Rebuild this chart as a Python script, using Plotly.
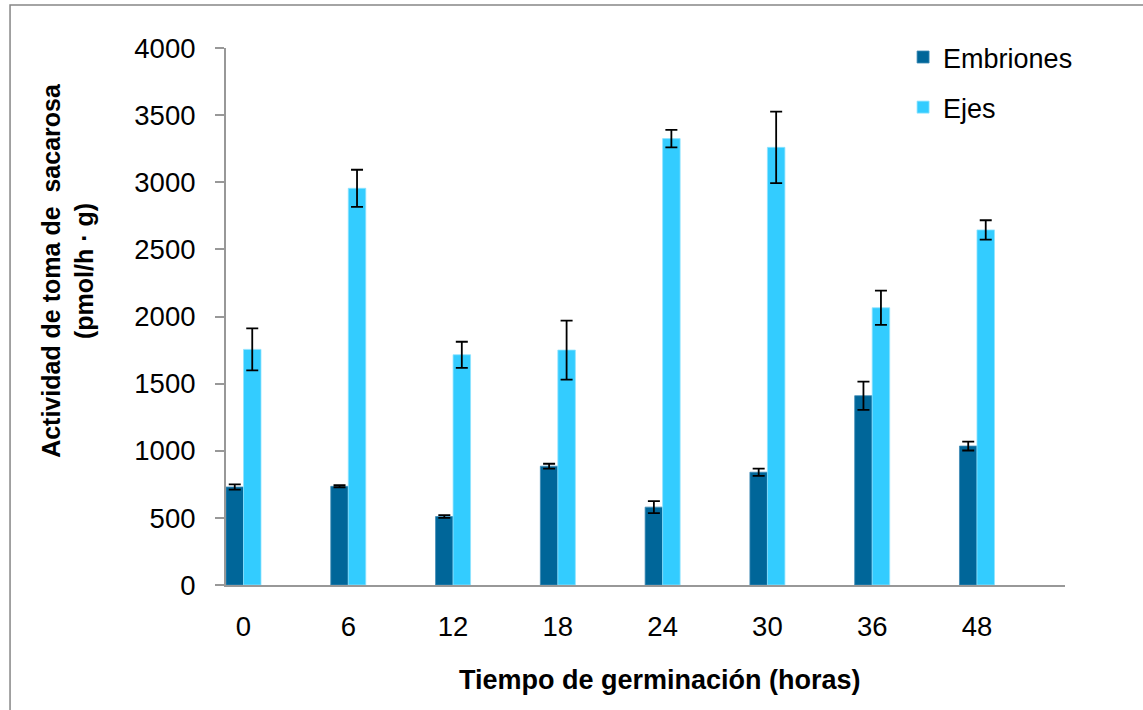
import plotly.graph_objects as go

# Sucrose uptake activity during germination
horas = ["0", "6", "12", "18", "24", "30", "36", "48"]
embriones = [730, 735, 510, 885, 580, 840, 1410, 1035]
embriones_err = [20, 8, 10, 18, 45, 27, 105, 33]
ejes = [1755, 2955, 1715, 1750, 3325, 3260, 2065, 2645]
ejes_err = [157, 138, 97, 220, 65, 266, 128, 72]

FONT = "Liberation Sans, Arial, sans-serif"
C_EMB = "#006699"
C_EJE = "#33CCFF"

fig = go.Figure()
fig.add_trace(go.Bar(
    name="Embriones", x=horas, y=embriones, legendgroup="a",
    marker=dict(color=C_EMB, line=dict(color="#3d8ab5", width=0.8)),
    error_y=dict(type="data", array=embriones_err, visible=True,
                 color="black", thickness=1.8, width=6),
))
fig.add_trace(go.Bar(
    name="Ejes", x=horas, y=ejes, legendgroup="b",
    marker=dict(color=C_EJE, line=dict(color="#8fe3ff", width=0.8)),
    error_y=dict(type="data", array=ejes_err, visible=True,
                 color="black", thickness=1.8, width=6),
))

fig.update_layout(
    width=1143, height=710,
    margin=dict(l=226, r=78, t=48, b=125),
    paper_bgcolor="white", plot_bgcolor="white",
    barmode="group", bargap=0.666, bargroupgap=0,
    font=dict(family=FONT, color="black", size=27),
    showlegend=True,
    legend=dict(x=0.807, y=1.028, xanchor="left", yanchor="top",
                font=dict(size=27), traceorder="grouped",
                tracegroupgap=12, bgcolor="rgba(0,0,0,0)"),
    xaxis=dict(
        type="category", categoryorder="array", categoryarray=horas,
        range=[-0.167, 7.84], showline=True, linecolor="#989898",
        linewidth=2, ticks="", showgrid=False, zeroline=False,
        tickfont=dict(size=27.5), ticklabelstandoff=16,
    ),
    yaxis=dict(
        range=[0, 4000], tickvals=list(range(0, 4001, 500)),
        showline=True, linecolor="#989898", linewidth=2,
        ticks="outside", ticklen=9, tickwidth=2, tickcolor="#989898",
        showgrid=False, zeroline=False,
        tickfont=dict(size=27.5), ticklabelstandoff=14,
    ),
    annotations=[
        dict(text="<b>Actividad de toma de  sacarosa<br>(pmol/h · g)</b>",
             xref="paper", yref="paper", x=-0.1883, y=0.585,
             xanchor="center", yanchor="middle", textangle=-90,
             showarrow=False, font=dict(size=25, family=FONT)),
        dict(text="<b>Tiempo de germinación (horas)</b>",
             xref="paper", yref="paper", x=0.517, y=-0.176,
             xanchor="center", yanchor="middle", showarrow=False,
             font=dict(size=27, family=FONT)),
    ],
    shapes=[
        dict(type="rect", xref="paper", yref="paper",
             x0=-0.2574, x1=1.11, y0=-0.26, y1=1.0801,
             line=dict(color="#868686", width=1.5), layer="below"),
    ],
)

fig.write_html("out.html")
